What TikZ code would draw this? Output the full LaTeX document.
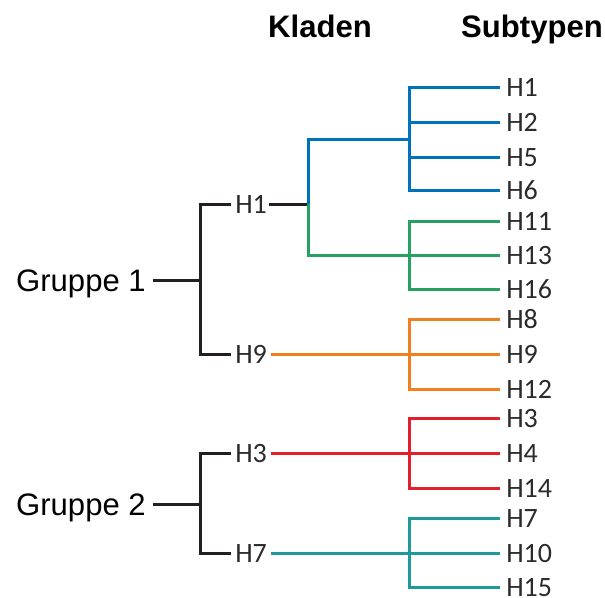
\documentclass[tikz,border=0pt]{standalone}
\usepackage{fontspec}
\setmainfont{Liberation Sans}
\newfontfamily\leaffont{Carlito}
\definecolor{cblk}{HTML}{231F20}
\definecolor{cblue}{HTML}{0072BC}
\definecolor{cgreen}{HTML}{27A064}
\definecolor{corange}{HTML}{F0801F}
\definecolor{cred}{HTML}{E2202B}
\definecolor{cteal}{HTML}{1C9B99}
\definecolor{ctext}{HTML}{2B2B2B}
\tikzset{
  br/.style={line width=2.25pt, line join=miter},
  blk/.style={br, cblk},
  header/.style={font=\fontsize{23.3}{28}\selectfont\bfseries, inner sep=0pt, anchor=base},
  grp/.style={font=\fontsize{23.3}{28}\selectfont, inner xsep=0pt, inner ysep=0pt, text height=16.8pt, text depth=0pt, anchor=east},
  clade/.style={font=\leaffont\fontsize{21}{25}\selectfont, text=ctext, inner xsep=3pt, inner ysep=0pt, text height=13.5pt, text depth=0pt},
  leaf/.style={font=\leaffont\fontsize{21}{25}\selectfont, text=ctext, inner xsep=4.5pt, inner ysep=0pt, text height=13.5pt, text depth=0pt, anchor=west},
}
\begin{document}
\begin{tikzpicture}[x=0.75pt, y=-0.75pt]
\useasboundingbox (0,0) rectangle (605,597);
% headers
\node[header] (hk) at (320,37) {Kladen};
\node[header] (hs) at (532,37) {Subtypen};
% groups
\node[grp] (g1) at (146,280) {Gruppe 1};
\node[grp] (g2) at (146,504) {Gruppe 2};
% clade labels
\node[clade, anchor=west] (c1) at (231,204) {H1};
\node[clade, anchor=west] (c9) at (231,354) {H9};
\node[clade, anchor=west] (c3) at (231,453) {H3};
\node[clade, anchor=west] (c7) at (231,553) {H7};
% leaves
\node[leaf] (l1)  at (500,87)  {H1};
\node[leaf] (l2)  at (500,122) {H2};
\node[leaf] (l5)  at (500,157) {H5};
\node[leaf] (l6)  at (500,190) {H6};
\node[leaf] (l11) at (500,221) {H11};
\node[leaf] (l13) at (500,255) {H13};
\node[leaf] (l16) at (500,289) {H16};
\node[leaf] (l8)  at (500,319) {H8};
\node[leaf] (l9)  at (500,354) {H9};
\node[leaf] (l12) at (500,389) {H12};
\node[leaf] (l3)  at (500,418) {H3};
\node[leaf] (l4)  at (500,453) {H4};
\node[leaf] (l14) at (500,488) {H14};
\node[leaf] (l7)  at (500,518) {H7};
\node[leaf] (l10) at (500,553) {H10};
\node[leaf] (l15) at (500,587) {H15};
% junction coordinates
\coordinate (j1) at (200,280);
\coordinate (j2) at (200,504);
\coordinate (k1) at (308,204);
\coordinate (kb) at (409,139);
\coordinate (kg) at (409,255);
\coordinate (ko) at (409,354);
\coordinate (kr) at (409,453);
\coordinate (kt) at (409,553);
% black brackets
\draw[blk] ([xshift=5pt]g1.east) -- (j1);
\draw[blk] (c1.west) -| (j1) |- (c9.west);
\draw[blk] ([xshift=5pt]g2.east) -- (j2);
\draw[blk] (c3.west) -| (j2) |- (c7.west);
\draw[blk] ([xshift=-1.5pt]c1.east) -- (k1);
% blue
\draw[br, cblue] (k1) |- (kb);
\draw[br, cblue] (l1.west) -| (kb) |- (l6.west);
\draw[br, cblue] (kb |- l2.west) -- (l2.west);
\draw[br, cblue] (kb |- l5.west) -- (l5.west);
% green
\draw[br, cgreen] (k1) |- (kg) -- (l13.west);
\draw[br, cgreen] (l11.west) -| (kg) |- (l16.west);
% orange
\draw[br, corange] (c9.east) -- (ko) -- (l9.west);
\draw[br, corange] (l8.west) -| (ko) |- (l12.west);
% red
\draw[br, cred] (c3.east) -- (kr) -- (l4.west);
\draw[br, cred] (l3.west) -| (kr) |- (l14.west);
% teal
\draw[br, cteal] (c7.east) -- (kt) -- (l10.west);
\draw[br, cteal] (l7.west) -| (kt) |- (l15.west);
\end{tikzpicture}
\end{document}
